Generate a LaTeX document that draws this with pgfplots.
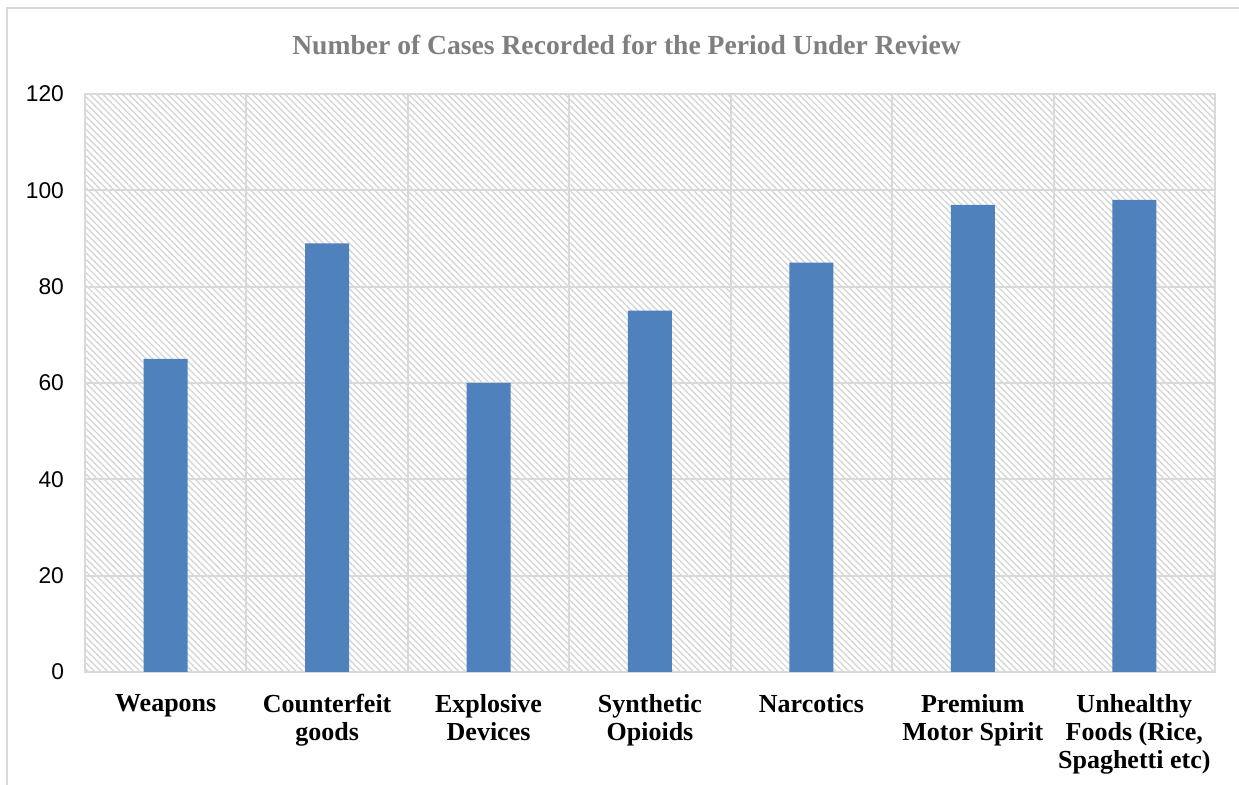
\documentclass[border=0pt]{standalone}
\usepackage{fontspec}
\setmainfont{Liberation Serif}
\newfontfamily\sansf{Liberation Sans}
\usepackage{pgfplots}
\pgfplotsset{compat=1.18}
\usetikzlibrary{patterns.meta}
\definecolor{gridc}{HTML}{D9D9D9}
\definecolor{hatchc}{HTML}{D6D6D6}
\definecolor{barc}{HTML}{4F81BD}
\definecolor{titlec}{HTML}{7F7F7F}
\begin{document}
\begin{tikzpicture}
\path[use as bounding box] (0,0) rectangle (619.5pt,392.5pt);
\draw[gridc, line width=1pt] (3.5pt,0) -- (3.5pt,388.5pt) -- (625pt,388.5pt);
\node[font=\bfseries\fontsize{13.8}{16}\selectfont, text=titlec] at (313.25pt,370pt) {Number of Cases Recorded for the Period Under Review};
\begin{axis}[
  at={(42.5pt,56.5pt)}, anchor=south west,
  scale only axis, width=565pt, height=289pt,
  xmin=-0.5, xmax=6.5, ymin=0, ymax=120,
  ytick={0,20,...,120},
  xtick={0,...,6},
  minor xtick={0.5,1.5,...,5.5},
  xticklabels={Weapons, {Counterfeit\\goods}, {Explosive\\Devices}, {Synthetic\\Opioids}, Narcotics, {Premium\\Motor Spirit}, {Unhealthy\\Foods (Rice,\\Spaghetti etc)}},
  xticklabel style={align=center, font=\bfseries\fontsize{13}{14}\selectfont, anchor=north, yshift=-7.5pt},
  yticklabel style={font=\sansf\fontsize{11.4}{13}\selectfont, anchor=east, xshift=-7pt},
  /pgf/number format/assume math mode=true,
  major tick length=0pt, minor tick length=0pt,
  ymajorgrids, xminorgrids,
  grid style={gridc, line width=1pt},
  minor grid style={gridc, line width=1pt},
  axis line style={gridc, line width=1pt},
  axis background/.style={pattern={Lines[angle=-45,distance=2.3pt,line width=0.7pt]}, pattern color=hatchc},
  ybar, bar width=22pt,
]
\addplot[fill=barc, draw=none] coordinates {(0,65) (1,89) (2,60) (3,75) (4,85) (5,97) (6,98)};
\end{axis}
\end{tikzpicture}
\end{document}
